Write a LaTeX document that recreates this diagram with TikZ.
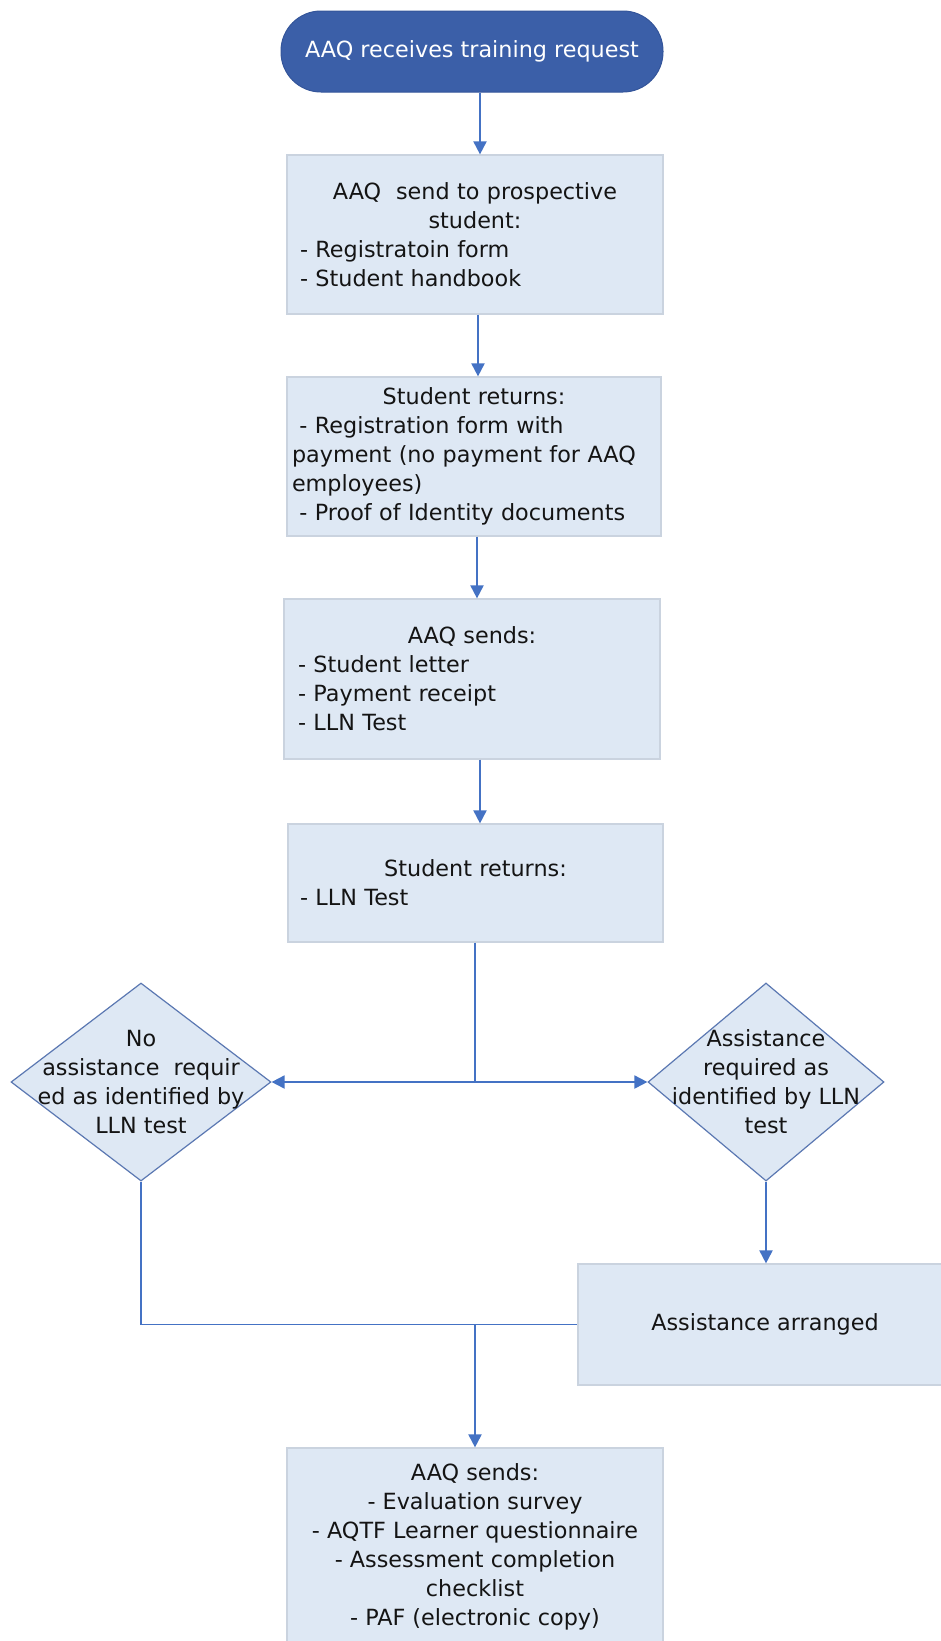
\documentclass[tikz,border=0pt]{standalone}
\usepackage{fontspec}
\setmainfont{DejaVu Sans}
\usetikzlibrary{shapes.geometric,arrows.meta}
\definecolor{termfill}{HTML}{3B5FA8}
\definecolor{termline}{HTML}{34559A}
\definecolor{boxfill}{HTML}{DEE8F4}
\definecolor{boxline}{HTML}{CAD3DF}
\definecolor{dialine}{HTML}{5B78B2}
\definecolor{arrowc}{HTML}{4472C4}
\definecolor{txt}{HTML}{141414}
\begin{document}
\begin{tikzpicture}[x=1pt,y=-1pt,
  every node/.style={font=\fontsize{22.3}{29}\selectfont, text=txt},
  termbox/.style={draw=termline, fill=termfill, line width=1pt, rounded corners=40pt,
    minimum width=382pt, minimum height=81pt, inner sep=0pt, text=white},
  procbox/.style={draw=boxline, fill=boxfill, line width=1.2pt, align=left, inner ysep=0pt},
  endbox/.style={draw=boxline, fill=boxfill, line width=1.2pt, align=center, inner sep=0pt},
  decis/.style={diamond, draw=dialine, fill=boxfill, line width=1.2pt, inner sep=0pt,
    minimum width=#1, minimum height=198pt},
  decistext/.style={align=center, inner sep=0pt},
  conn/.style={draw=arrowc, line width=1.9pt},
  arr/.style={conn, -{Triangle[length=13pt,width=13pt]}}
]
\useasboundingbox (0,0) rectangle (941,1641);
\clip (0,0) rectangle (941,1641);
\fill[white] (0,0) rectangle (941,1641);

\node[termbox] (term) at (472,51.5) {AAQ receives training request};

\node[procbox, text width=350pt, inner xsep=13pt, minimum height=159pt] (b1) at (475,234.5)
  {\makebox[\hsize]{AAQ\ \ send to prospective}\\
   \makebox[\hsize]{student:}\\
   - Registratoin form\\
   - Student handbook};

\node[procbox, text width=364pt, inner xsep=5pt, minimum height=159pt] (b2) at (474,456.5)
  {\makebox[\hsize]{Student returns:}\\
   \ - Registration form with\\
   payment (no payment for AAQ\\
   employees)\\
   \ - Proof of Identity documents};

\node[procbox, text width=348pt, inner xsep=14pt, minimum height=160pt] (b3) at (472,679)
  {\makebox[\hsize]{AAQ sends:}\\
   - Student letter\\
   - Payment receipt\\
   - LLN Test};

\node[procbox, text width=351pt, inner xsep=12pt, minimum height=118pt] (b4) at (475.5,883)
  {\makebox[\hsize]{Student returns:}\\
   - LLN Test};

\node[decis=260pt] (noD) at (141,1082) {};
\node[decistext] (noT) at (noD.center)
  {No\\assistance\ \ requir\\ed as identified by\\LLN test};

\node[decis=236pt] (yesD) at (766,1082) {};
\node[decistext] (yesT) at (yesD.center)
  {Assistance\\required as\\identified by LLN\\test};

\node[endbox, minimum width=374pt, minimum height=121pt] (b5) at (765,1324.5)
  {Assistance arranged};

\node[endbox, minimum width=376pt, minimum height=197pt] (b6) at (475,1546.5)
  {AAQ sends:\\
   - Evaluation survey\\
   - AQTF Learner questionnaire\\
   - Assessment completion\\
   checklist\\
   - PAF (electronic copy)};

\coordinate (x1) at (480,0);
\coordinate (x2) at (478,0);
\coordinate (x3) at (477,0);
\coordinate (x4) at (480,0);
\coordinate (j1) at (475,1082);
\coordinate (j2) at (475,1324.5);

\draw[arr] (term.south -| x1) -- (b1.north -| x1);
\draw[arr] (b1.south -| x2) -- (b2.north -| x2);
\draw[arr] (b2.south -| x3) -- (b3.north -| x3);
\draw[arr] (b3.south -| x4) -- (b4.north -| x4);
\draw[conn] (b4.south -| j1) -- (j1);
\draw[arr] (j1) -- (noD.east);
\draw[arr] (j1) -- (yesD.west);
\draw[arr] (yesD.south) -- (b5.north -| yesD.south);
\draw[conn] (noD.south) |- (b5.west);
\draw[arr] (j2) -- (b6.north -| j2);
\end{tikzpicture}
\end{document}
